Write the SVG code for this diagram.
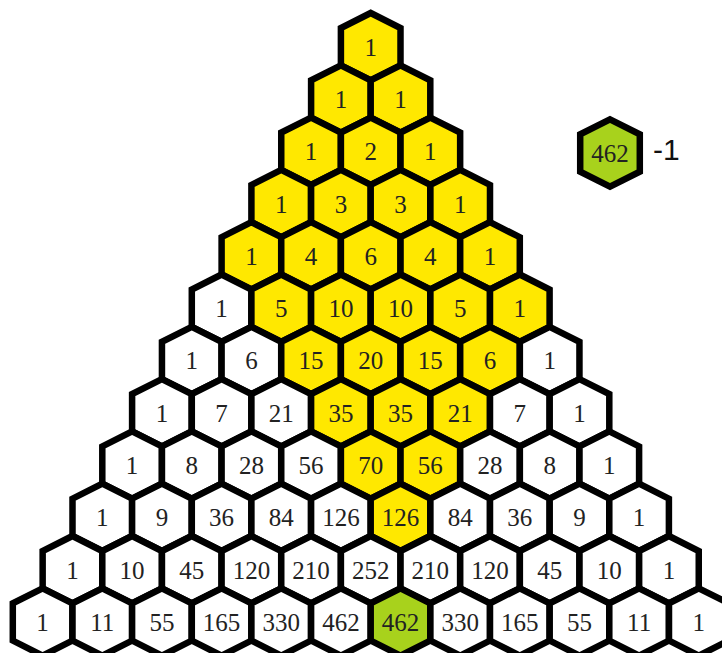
<svg xmlns="http://www.w3.org/2000/svg" xmlns:xlink="http://www.w3.org/1999/xlink" width="722" height="653" viewBox="0 0 722 653">
<style>
.c use{stroke:#000;stroke-width:6.5;stroke-linejoin:miter}
.w{fill:#fff}
.y{fill:#ffe800}
.g{fill:#a8d21c}
.c text{font-family:"Liberation Serif","Times New Roman",serif;font-size:25px;fill:#222;text-anchor:middle}
.lbl{font-family:"Liberation Sans",Arial,sans-serif;font-size:30px;fill:#111}
</style>
<defs>
<polygon id="hex" points="0,-33.65 29.8,-18.65 29.8,18.65 0,33.65 -29.8,18.65 -29.8,-18.65"/>
</defs>
<rect width="722" height="653" fill="#fff"/>
<g id="nodes" class="c">
<g id="n0-0" transform="translate(370.7,46.65)"><use xlink:href="#hex" class="y"/><text y="9">1</text></g>

<g id="n1-0" transform="translate(340.9,98.95)"><use xlink:href="#hex" class="y"/><text y="9">1</text></g>
<g id="n1-1" transform="translate(400.5,98.95)"><use xlink:href="#hex" class="y"/><text y="9">1</text></g>

<g id="n2-0" transform="translate(311.05,151.25)"><use xlink:href="#hex" class="y"/><text y="9">1</text></g>
<g id="n2-1" transform="translate(370.7,151.25)"><use xlink:href="#hex" class="y"/><text y="9">2</text></g>
<g id="n2-2" transform="translate(430.35,151.25)"><use xlink:href="#hex" class="y"/><text y="9">1</text></g>

<g id="n3-0" transform="translate(281.2,203.55)"><use xlink:href="#hex" class="y"/><text y="9">1</text></g>
<g id="n3-1" transform="translate(340.9,203.55)"><use xlink:href="#hex" class="y"/><text y="9">3</text></g>
<g id="n3-2" transform="translate(400.5,203.55)"><use xlink:href="#hex" class="y"/><text y="9">3</text></g>
<g id="n3-3" transform="translate(460.2,203.55)"><use xlink:href="#hex" class="y"/><text y="9">1</text></g>

<g id="n4-0" transform="translate(251.4,255.85)"><use xlink:href="#hex" class="y"/><text y="9">1</text></g>
<g id="n4-1" transform="translate(311.05,255.85)"><use xlink:href="#hex" class="y"/><text y="9">4</text></g>
<g id="n4-2" transform="translate(370.7,255.85)"><use xlink:href="#hex" class="y"/><text y="9">6</text></g>
<g id="n4-3" transform="translate(430.35,255.85)"><use xlink:href="#hex" class="y"/><text y="9">4</text></g>
<g id="n4-4" transform="translate(490,255.85)"><use xlink:href="#hex" class="y"/><text y="9">1</text></g>

<g id="n5-0" transform="translate(221.6,308.15)"><use xlink:href="#hex" class="w"/><text y="9">1</text></g>
<g id="n5-1" transform="translate(281.2,308.15)"><use xlink:href="#hex" class="y"/><text y="9">5</text></g>
<g id="n5-2" transform="translate(340.9,308.15)"><use xlink:href="#hex" class="y"/><text y="9">10</text></g>
<g id="n5-3" transform="translate(400.5,308.15)"><use xlink:href="#hex" class="y"/><text y="9">10</text></g>
<g id="n5-4" transform="translate(460.2,308.15)"><use xlink:href="#hex" class="y"/><text y="9">5</text></g>
<g id="n5-5" transform="translate(519.8,308.15)"><use xlink:href="#hex" class="y"/><text y="9">1</text></g>

<g id="n6-0" transform="translate(191.75,360.45)"><use xlink:href="#hex" class="w"/><text y="9">1</text></g>
<g id="n6-1" transform="translate(251.4,360.45)"><use xlink:href="#hex" class="w"/><text y="9">6</text></g>
<g id="n6-2" transform="translate(311.05,360.45)"><use xlink:href="#hex" class="y"/><text y="9">15</text></g>
<g id="n6-3" transform="translate(370.7,360.45)"><use xlink:href="#hex" class="y"/><text y="9">20</text></g>
<g id="n6-4" transform="translate(430.35,360.45)"><use xlink:href="#hex" class="y"/><text y="9">15</text></g>
<g id="n6-5" transform="translate(490,360.45)"><use xlink:href="#hex" class="y"/><text y="9">6</text></g>
<g id="n6-6" transform="translate(549.65,360.45)"><use xlink:href="#hex" class="w"/><text y="9">1</text></g>

<g id="n7-0" transform="translate(161.9,412.75)"><use xlink:href="#hex" class="w"/><text y="9">1</text></g>
<g id="n7-1" transform="translate(221.6,412.75)"><use xlink:href="#hex" class="w"/><text y="9">7</text></g>
<g id="n7-2" transform="translate(281.2,412.75)"><use xlink:href="#hex" class="w"/><text y="9">21</text></g>
<g id="n7-3" transform="translate(340.9,412.75)"><use xlink:href="#hex" class="y"/><text y="9">35</text></g>
<g id="n7-4" transform="translate(400.5,412.75)"><use xlink:href="#hex" class="y"/><text y="9">35</text></g>
<g id="n7-5" transform="translate(460.2,412.75)"><use xlink:href="#hex" class="y"/><text y="9">21</text></g>
<g id="n7-6" transform="translate(519.8,412.75)"><use xlink:href="#hex" class="w"/><text y="9">7</text></g>
<g id="n7-7" transform="translate(579.5,412.75)"><use xlink:href="#hex" class="w"/><text y="9">1</text></g>

<g id="n8-0" transform="translate(132.1,465.05)"><use xlink:href="#hex" class="w"/><text y="9">1</text></g>
<g id="n8-1" transform="translate(191.75,465.05)"><use xlink:href="#hex" class="w"/><text y="9">8</text></g>
<g id="n8-2" transform="translate(251.4,465.05)"><use xlink:href="#hex" class="w"/><text y="9">28</text></g>
<g id="n8-3" transform="translate(311.05,465.05)"><use xlink:href="#hex" class="w"/><text y="9">56</text></g>
<g id="n8-4" transform="translate(370.7,465.05)"><use xlink:href="#hex" class="y"/><text y="9">70</text></g>
<g id="n8-5" transform="translate(430.35,465.05)"><use xlink:href="#hex" class="y"/><text y="9">56</text></g>
<g id="n8-6" transform="translate(490,465.05)"><use xlink:href="#hex" class="w"/><text y="9">28</text></g>
<g id="n8-7" transform="translate(549.65,465.05)"><use xlink:href="#hex" class="w"/><text y="9">8</text></g>
<g id="n8-8" transform="translate(609.3,465.05)"><use xlink:href="#hex" class="w"/><text y="9">1</text></g>

<g id="n9-0" transform="translate(102.3,517.35)"><use xlink:href="#hex" class="w"/><text y="9">1</text></g>
<g id="n9-1" transform="translate(161.9,517.35)"><use xlink:href="#hex" class="w"/><text y="9">9</text></g>
<g id="n9-2" transform="translate(221.6,517.35)"><use xlink:href="#hex" class="w"/><text y="9">36</text></g>
<g id="n9-3" transform="translate(281.2,517.35)"><use xlink:href="#hex" class="w"/><text y="9">84</text></g>
<g id="n9-4" transform="translate(340.9,517.35)"><use xlink:href="#hex" class="w"/><text y="9">126</text></g>
<g id="n9-5" transform="translate(400.5,517.35)"><use xlink:href="#hex" class="y"/><text y="9">126</text></g>
<g id="n9-6" transform="translate(460.2,517.35)"><use xlink:href="#hex" class="w"/><text y="9">84</text></g>
<g id="n9-7" transform="translate(519.8,517.35)"><use xlink:href="#hex" class="w"/><text y="9">36</text></g>
<g id="n9-8" transform="translate(579.5,517.35)"><use xlink:href="#hex" class="w"/><text y="9">9</text></g>
<g id="n9-9" transform="translate(639.1,517.35)"><use xlink:href="#hex" class="w"/><text y="9">1</text></g>

<g id="n10-0" transform="translate(72.45,569.65)"><use xlink:href="#hex" class="w"/><text y="9">1</text></g>
<g id="n10-1" transform="translate(132.1,569.65)"><use xlink:href="#hex" class="w"/><text y="9">10</text></g>
<g id="n10-2" transform="translate(191.75,569.65)"><use xlink:href="#hex" class="w"/><text y="9">45</text></g>
<g id="n10-3" transform="translate(251.4,569.65)"><use xlink:href="#hex" class="w"/><text y="9">120</text></g>
<g id="n10-4" transform="translate(311.05,569.65)"><use xlink:href="#hex" class="w"/><text y="9">210</text></g>
<g id="n10-5" transform="translate(370.7,569.65)"><use xlink:href="#hex" class="w"/><text y="9">252</text></g>
<g id="n10-6" transform="translate(430.35,569.65)"><use xlink:href="#hex" class="w"/><text y="9">210</text></g>
<g id="n10-7" transform="translate(490,569.65)"><use xlink:href="#hex" class="w"/><text y="9">120</text></g>
<g id="n10-8" transform="translate(549.65,569.65)"><use xlink:href="#hex" class="w"/><text y="9">45</text></g>
<g id="n10-9" transform="translate(609.3,569.65)"><use xlink:href="#hex" class="w"/><text y="9">10</text></g>
<g id="n10-10" transform="translate(668.95,569.65)"><use xlink:href="#hex" class="w"/><text y="9">1</text></g>

<g id="n11-0" transform="translate(42.6,621.95)"><use xlink:href="#hex" class="w"/><text y="9">1</text></g>
<g id="n11-1" transform="translate(102.3,621.95)"><use xlink:href="#hex" class="w"/><text y="9">11</text></g>
<g id="n11-2" transform="translate(161.9,621.95)"><use xlink:href="#hex" class="w"/><text y="9">55</text></g>
<g id="n11-3" transform="translate(221.6,621.95)"><use xlink:href="#hex" class="w"/><text y="9">165</text></g>
<g id="n11-4" transform="translate(281.2,621.95)"><use xlink:href="#hex" class="w"/><text y="9">330</text></g>
<g id="n11-5" transform="translate(340.9,621.95)"><use xlink:href="#hex" class="w"/><text y="9">462</text></g>
<g id="n11-6" transform="translate(400.5,621.95)"><use xlink:href="#hex" class="g"/><text y="9">462</text></g>
<g id="n11-7" transform="translate(460.2,621.95)"><use xlink:href="#hex" class="w"/><text y="9">330</text></g>
<g id="n11-8" transform="translate(519.8,621.95)"><use xlink:href="#hex" class="w"/><text y="9">165</text></g>
<g id="n11-9" transform="translate(579.5,621.95)"><use xlink:href="#hex" class="w"/><text y="9">55</text></g>
<g id="n11-10" transform="translate(639.1,621.95)"><use xlink:href="#hex" class="w"/><text y="9">11</text></g>
<g id="n11-11" transform="translate(698.8,621.95)"><use xlink:href="#hex" class="w"/><text y="9">1</text></g>

<g id="legend" transform="translate(610,153)"><use xlink:href="#hex" class="g"/><text y="9">462</text></g>
</g>
<g id="connectors"/>
<text class="lbl" x="653" y="160">-1</text>
</svg>
